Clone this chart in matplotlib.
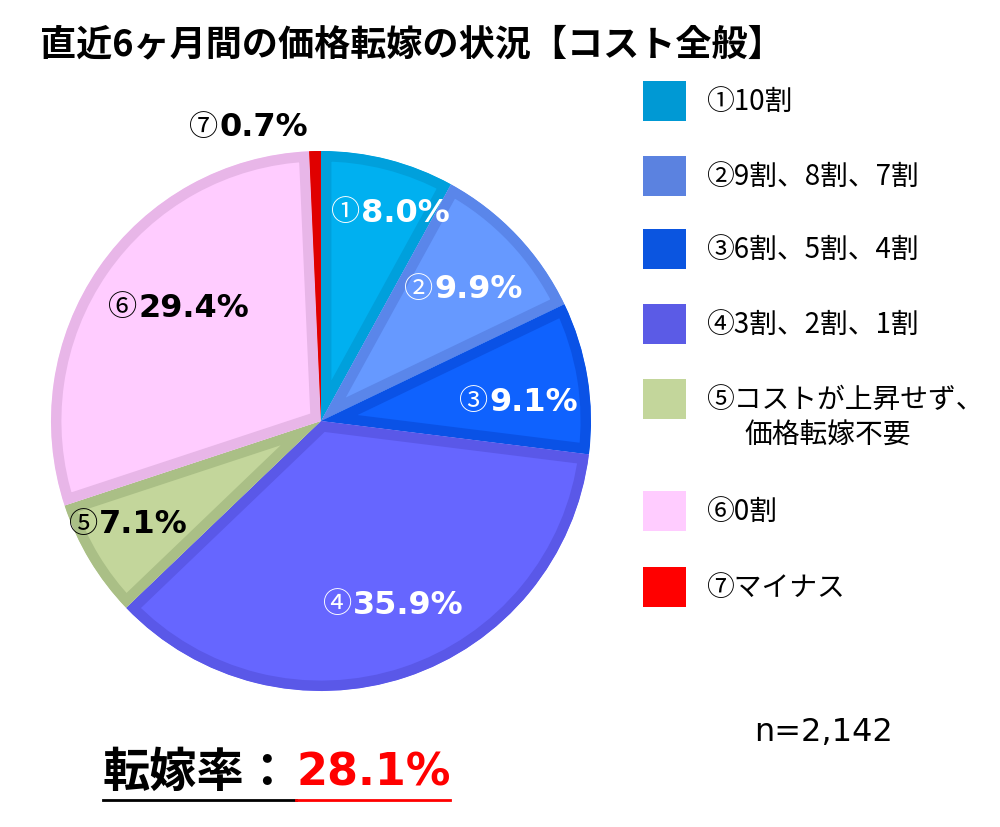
import matplotlib
matplotlib.use('Agg')
import matplotlib.pyplot as plt
from matplotlib.patches import Rectangle
from matplotlib.lines import Line2D

plt.rcParams['font.family'] = ['Noto Sans CJK JP', 'DejaVu Sans']

# ─── data ─────────────────────────────────────────────
labels = ['①10割', '②9割、8割、7割', '③6割、5割、4割', '④3割、2割、1割',
          '⑤コストが上昇せず、', '⑥0割', '⑦マイナス']
label5_line2 = '価格転嫁不要'
marks = ['①', '②', '③', '④', '⑤', '⑥', '⑦']
shares = [8.0, 9.9, 9.1, 35.9, 7.1, 29.4, 0.7]
title = '直近6ヶ月間の価格転嫁の状況【コスト全般】'
n_text = 'n=2,142'
pass_rate = 28.1

# ─── style ────────────────────────────────────────────
fills = ['#00B0F0', '#6699FF', '#0F62FE', '#6666FF', '#C3D69B', '#FFCCFF', '#FF0000']
edges = ['#00A0DC', '#5A86EA', '#0A52E6', '#5A58E8', '#AABF86', '#E8B6E8', '#E00000']
legend_cols = ['#0099D4', '#5B82E0', '#0B55E0', '#5B5BE6', '#C3D69B', '#FFCCFF', '#FF0000']
txt_cols = ['white', 'white', 'white', 'white', 'black', 'black', 'black']
# label positions in pie coordinates (radius = 1)
lab_xy = [(0.263, 0.774), (0.533, 0.489), (0.737, 0.074), (0.274, -0.678),
          (-0.707, -0.381), (-0.522, 0.422), (-0.263, 1.089)]
leg_y = [102, 177, 250, 325, 400, 512, 588]

W, H = 1000, 828
fig = plt.figure(figsize=(W / 100, H / 100), dpi=100)

# pie axes: centre (321, 422) px, radius 270 px
cx, cy, r = 321, 422, 270
pax = fig.add_axes([(cx - r) / W, (H - cy - r) / H, 2 * r / W, 2 * r / H])
wedges, _ = pax.pie(shares, colors=fills, startangle=90, counterclock=False,
                    radius=1.0, wedgeprops=dict(linewidth=0))
pax.set_xlim(-1, 1)
pax.set_ylim(-1, 1)
pax.set_aspect('equal')
pax.axis('off')
for w, ec in zip(wedges, edges):
    w.set_edgecolor(ec)
    w.set_linewidth(15)
    # pie() turns clipping off; clip each wedge to itself -> inner border only
    w.set_clip_on(True)
    w.set_clip_box(None)
    w.set_clip_path(w.get_path(), w.get_transform())

# value labels: bold number + thin circled mark in front of it
for m, v, (x, y), c in zip(marks, shares, lab_xy, txt_cols):
    num = pax.text(x + 0.05, y, f'{v:.1f}%', ha='center', va='center', color=c,
                   fontsize=23, fontweight='bold', family='DejaVu Sans')
    pax.annotate(m, xy=(0, 0.5), xycoords=num, xytext=(-1, 0), textcoords='offset points',
                 ha='right', va='center', color=c, fontsize=21)

# overlay axes in pixel coordinates
ax = fig.add_axes([0, 0, 1, 1], zorder=-1)
ax.set_xlim(0, W)
ax.set_ylim(H, 0)
ax.axis('off')

ax.text(40, 45, title, fontsize=26, fontweight='bold', va='center', ha='left')

for lab, col, y in zip(labels, legend_cols, leg_y):
    ax.add_patch(Rectangle((643, y - 20), 43, 40, facecolor=col, edgecolor='none'))
    ax.text(706, y, lab, fontsize=20, va='center', ha='left')
ax.text(744, 436, label5_line2, fontsize=20, va='center', ha='left')

ax.text(893, 733, n_text, fontsize=23, ha='right', va='center',
        family=['Liberation Sans Narrow', 'DejaVu Sans'])

t1 = ax.text(103, 773, '転嫁率：', fontsize=34, fontweight='bold', va='center', ha='left')
fig.canvas.draw()
bb = t1.get_window_extent().transformed(ax.transData.inverted())
x1 = bb.x1
t2 = ax.text(x1 + 4, 773, f'{pass_rate}%', fontsize=32, fontweight='bold',
             color='#FF0000', va='center', ha='left', family=['DejaVu Sans', 'Noto Sans CJK JP'])
fig.canvas.draw()
bb2 = t2.get_window_extent().transformed(ax.transData.inverted())
ax.add_line(Line2D([103, x1 + 4], [801, 801], color='black', lw=2))
ax.add_line(Line2D([x1 + 4, bb2.x1], [801, 801], color='#FF0000', lw=2))

fig.savefig('out.png', dpi=100, facecolor='white')
